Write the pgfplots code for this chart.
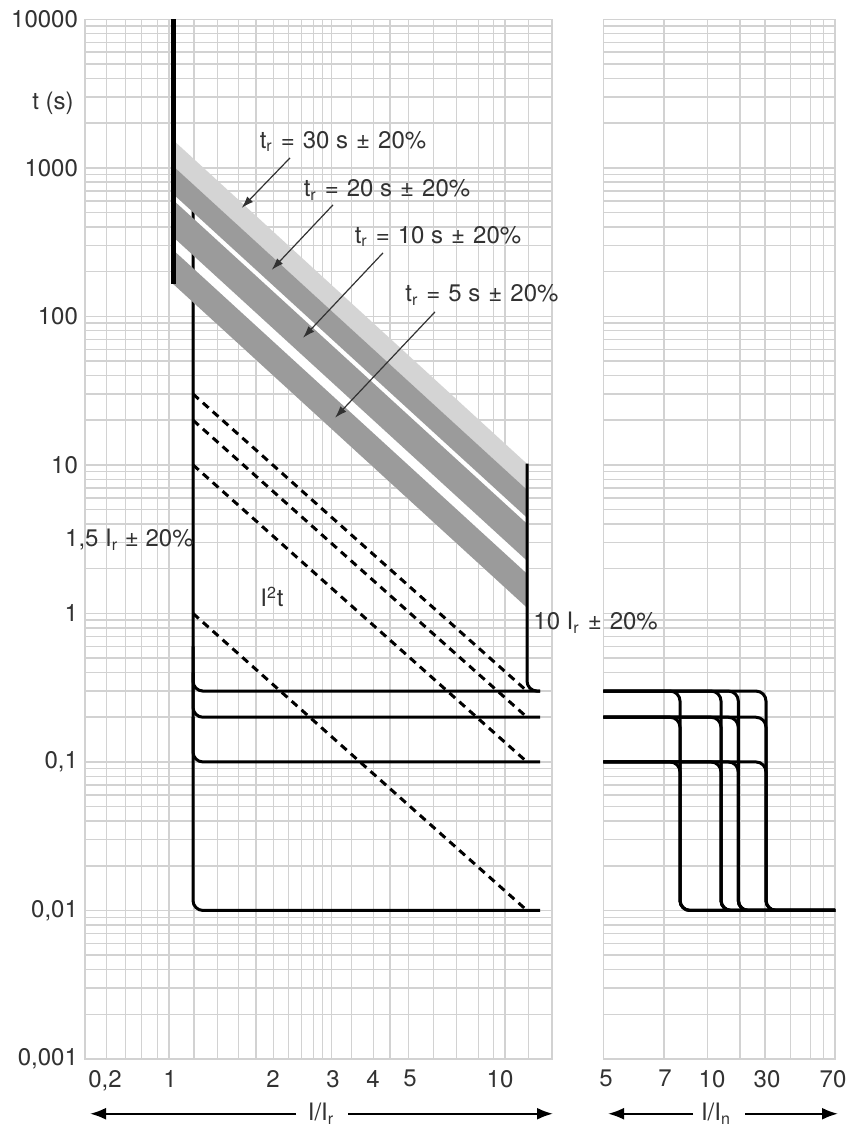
\documentclass[border=0pt]{standalone}
\usepackage{fontspec}
\setmainfont{TeX Gyre Heros}
\usepackage{pgfplots}
\pgfplotsset{compat=1.18}
\usetikzlibrary{arrows.meta}
\definecolor{gridc}{RGB}{210,210,210}
\definecolor{lightband}{RGB}{212,212,212}
\definecolor{darkband}{RGB}{155,155,155}
\definecolor{txt}{RGB}{50,50,50}
\newcommand{\lblfont}{\fontsize{12}{14}\selectfont}
\tikzset{
  mySol/.style={black, line width=1.5pt, rounded corners=5pt},
  myDsh/.style={black, line width=1.5pt, dash pattern=on 3.8pt off 2.8pt},
  myAnn/.style={txt, line width=0.6pt, -{Latex[length=6pt,width=4pt]}},
  myBot/.style={black, line width=1.1pt, -{Latex[length=8pt,width=6pt]}},
}
\begin{document}
\begin{tikzpicture}
\path[use as bounding box] (0,0) rectangle (427pt,569.5pt);
% ---------------- right panel: I/In ----------------
\begin{axis}[scale only axis, anchor=south west, height=519.85pt,
    ymode=log, ymin=0.001, ymax=10000,
    ytick={0.001,0.01,0.1,1,10,100,1000,10000},
    minor ytick={0.002,0.003,0.004,0.005,0.006,0.007,0.008,0.009,
                 0.02,0.03,0.04,0.05,0.06,0.07,0.08,0.09,
                 0.2,0.3,0.4,0.5,0.6,0.7,0.8,0.9,
                 2,3,4,5,6,7,8,9,
                 20,30,40,50,60,70,80,90,
                 200,300,400,500,600,700,800,900,
                 2000,3000,4000,5000,6000,7000,8000,9000},
    xmajorgrids=false, xminorgrids=true, ymajorgrids=true, yminorgrids=true,
    major tick length=0pt, minor tick length=0pt,
    major grid style={gridc, line width=0.75pt},
    minor grid style={gridc, line width=0.75pt},
    axis line style={gridc, line width=0.75pt},
    tick label style={font=\lblfont, text=txt},
    xticklabel style={yshift=-2pt},
    clip=false,
  at={(301.65pt,40pt)}, width=115.85pt,
  xmin=603.3, xmax=835,
  xtick={606,665,712,767,833},
  xticklabels={5,7,10,30,70},
  minor xtick={664,707.3,740,765,790.7,810.7,823.3},
  yticklabels={},
]
\addplot[mySol] coordinates {(603.3,0.3) (680,0.3) (680,0.01) (835,0.01)};
\addplot[mySol] coordinates {(603.3,0.3) (721,0.3) (721,0.01) (835,0.01)};
\addplot[mySol] coordinates {(603.3,0.3) (738.3,0.3) (738.3,0.01) (835,0.01)};
\addplot[mySol] coordinates {(603.3,0.3) (766,0.3) (766,0.01) (835,0.01)};
\addplot[mySol] coordinates {(603.3,0.2) (680,0.2) (680,0.01) (835,0.01)};
\addplot[mySol] coordinates {(603.3,0.2) (721,0.2) (721,0.01) (835,0.01)};
\addplot[mySol] coordinates {(603.3,0.2) (738.3,0.2) (738.3,0.01) (835,0.01)};
\addplot[mySol] coordinates {(603.3,0.2) (766,0.2) (766,0.01) (835,0.01)};
\addplot[mySol] coordinates {(603.3,0.1) (680,0.1) (680,0.01) (835,0.01)};
\addplot[mySol] coordinates {(603.3,0.1) (721,0.1) (721,0.01) (835,0.01)};
\addplot[mySol] coordinates {(603.3,0.1) (738.3,0.1) (738.3,0.01) (835,0.01)};
\addplot[mySol] coordinates {(603.3,0.1) (766,0.1) (766,0.01) (835,0.01)};
\draw[myBot] (axis cs:693,0.000428) -- (axis cs:608,0.000428);
\draw[myBot] (axis cs:745,0.000428) -- (axis cs:838,0.000428);
\node[font=\lblfont, text=txt] at (axis cs:716,0.000428) {I/I\textsubscript{n}};
\end{axis}
% ---------------- left panel: I/Ir ----------------
\begin{axis}[scale only axis, anchor=south west, height=519.85pt,
    ymode=log, ymin=0.001, ymax=10000,
    ytick={0.001,0.01,0.1,1,10,100,1000,10000},
    minor ytick={0.002,0.003,0.004,0.005,0.006,0.007,0.008,0.009,
                 0.02,0.03,0.04,0.05,0.06,0.07,0.08,0.09,
                 0.2,0.3,0.4,0.5,0.6,0.7,0.8,0.9,
                 2,3,4,5,6,7,8,9,
                 20,30,40,50,60,70,80,90,
                 200,300,400,500,600,700,800,900,
                 2000,3000,4000,5000,6000,7000,8000,9000},
    xmajorgrids=false, xminorgrids=true, ymajorgrids=true, yminorgrids=true,
    major tick length=0pt, minor tick length=0pt,
    major grid style={gridc, line width=0.75pt},
    minor grid style={gridc, line width=0.75pt},
    axis line style={gridc, line width=0.75pt},
    tick label style={font=\lblfont, text=txt},
    xticklabel style={yshift=-2pt},
    clip=false,
  at={(42.5pt,40pt)}, width=233.5pt,
  xmin=85, xmax=552,
  xtick={105,170,273,333,373,410,500},
  xticklabels={{0,2},1,2,3,4,5,10},
  minor xtick={106.7,125.7,141.7,157.3,169,194,217.7,238.3,256,273.3,288.3,301.7,313.3,322.7,331.7,351.7,373.3,390,408.3,433.3,456.7,478.3,493.3,505,528.3},
  yticklabels={{0,001},{0,01},{0,1},1,10,100,1000,10000},
]
% white region between the dark bands
\addplot[fill=white, draw=none] coordinates {(173,1030) (527,6.80) (527,1.092) (173,165.4)};
% short-time pick-up line (under the bands)
\addplot[mySol] coordinates {(193,540) (193,0.01) (540,0.01)};
% bands tr = 30, 20, 10, 5 s
\addplot[fill=lightband, draw=none] coordinates {(173,1541) (527,10.17) (527,6.80) (173,1030)};
\addplot[fill=darkband, draw=none] coordinates {(173,1030) (527,6.80) (527,4.406) (173,667.4)};
\addplot[fill=darkband, draw=none] coordinates {(173,608.1) (527,4.014) (527,2.262) (173,342.8)};
\addplot[fill=darkband, draw=none] coordinates {(173,280.3) (527,1.850) (527,1.092) (173,165.4)};
% long-time thick line at I/Ir = 1
\addplot[black, line width=2.5pt] coordinates {(173,10000) (173,165)};
% 10 Ir line
\addplot[mySol] coordinates {(527,10.2) (527,0.3) (540,0.3)};
% short-time delay plateaus
\addplot[mySol] coordinates {(193,0.6) (193,0.3) (540,0.3)};
\addplot[mySol] coordinates {(193,0.4) (193,0.2) (540,0.2)};
\addplot[mySol] coordinates {(193,0.2) (193,0.1) (540,0.1)};
% I2t dashed lines
\addplot[myDsh] coordinates {(193,30) (527,0.3)};
\addplot[myDsh] coordinates {(193,20) (527,0.2)};
\addplot[myDsh] coordinates {(193,10) (527,0.1)};
\addplot[myDsh] coordinates {(193,1) (527,0.01)};
% annotations
\node[font=\lblfont, text=txt] at (axis cs:53,2735) {t (s)};
\node[font=\lblfont, text=txt] at (axis cs:343,1501) {t\textsubscript{r}\,\,=\,\,30 s\,\,±\,\,20\%};
\node[font=\lblfont, text=txt] at (axis cs:387,710) {t\textsubscript{r}\,\,=\,\,20 s\,\,±\,\,20\%};
\node[font=\lblfont, text=txt] at (axis cs:438,344) {t\textsubscript{r}\,\,=\,\,10 s\,\,±\,\,20\%};
\node[font=\lblfont, text=txt] at (axis cs:482,139.6) {t\textsubscript{r}\,\,=\,\,5 s\,\,±\,\,20\%};
\draw[myAnn] (axis cs:290,1166) -- (axis cs:241.7,537);
\draw[myAnn] (axis cs:333,563) -- (axis cs:271.7,205.6);
\draw[myAnn] (axis cs:383,267.5) -- (axis cs:303,71.7);
\draw[myAnn] (axis cs:435,107.2) -- (axis cs:335,20.75);
\node[font=\lblfont, text=txt, anchor=east, inner sep=0pt] at (axis cs:194,3.13) {1,5 I\textsubscript{r} ± 20\%};
\node[font=\lblfont, text=txt] at (axis cs:272,1.29) {I\textsuperscript{2}t};
\node[font=\lblfont, text=txt, anchor=west, inner sep=0pt] at (axis cs:533,0.865) {10 I\textsubscript{r}\,\,±\,\,20\%};
\draw[myBot] (axis cs:296,0.000428) -- (axis cs:90,0.000428);
\draw[myBot] (axis cs:348,0.000428) -- (axis cs:553,0.000428);
\node[font=\lblfont, text=txt] at (axis cs:321,0.000428) {I/I\textsubscript{r}};
\end{axis}
\end{tikzpicture}
\end{document}
